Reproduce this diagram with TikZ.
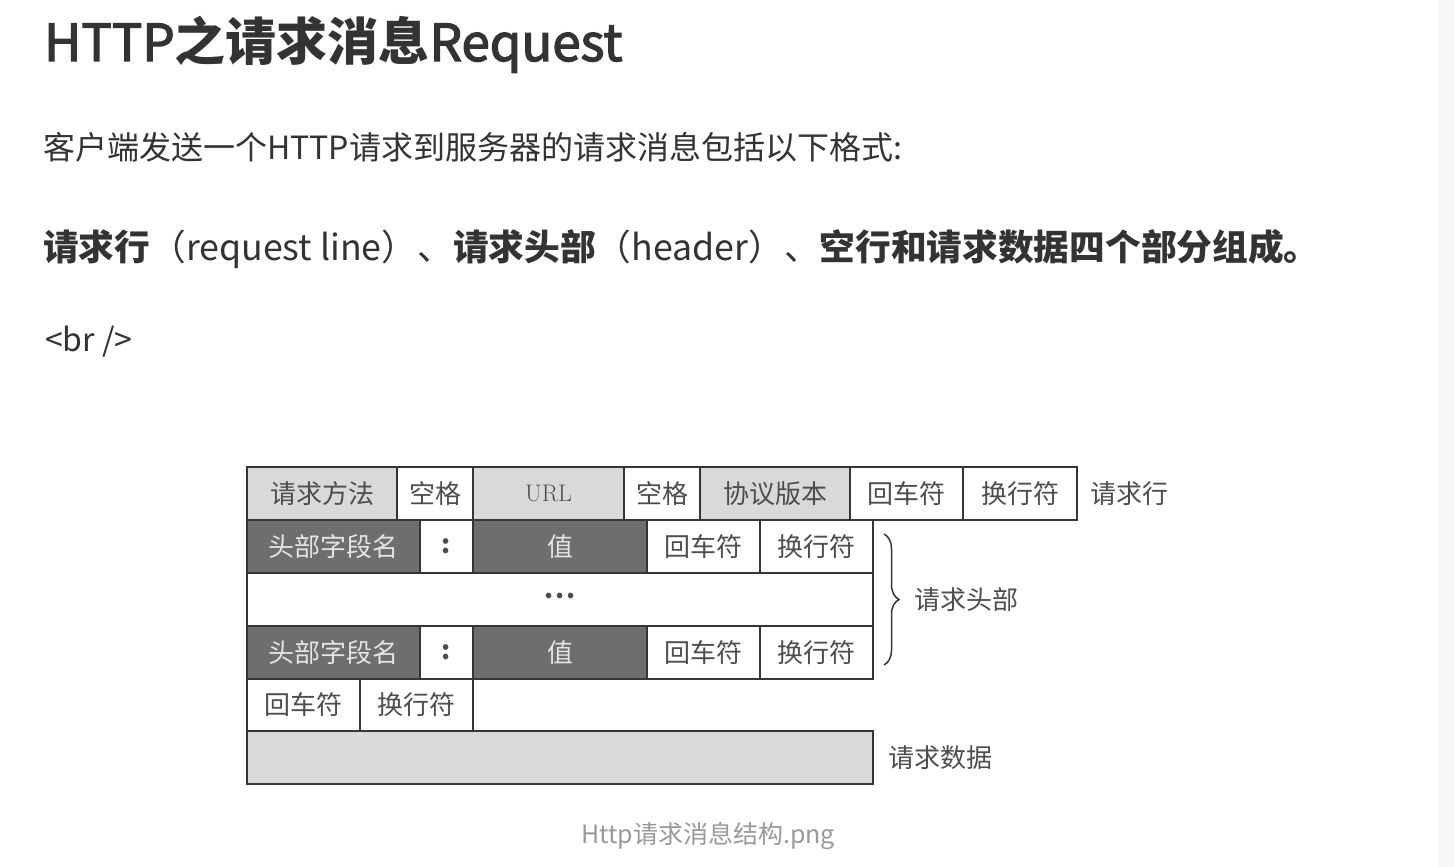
\documentclass[tikz,border=0pt]{standalone}
\usepackage{fontspec}
\usepackage{tikz}
\usetikzlibrary{positioning,decorations.pathreplacing}
\newfontfamily\cjk{Noto Sans CJK SC}
\newfontfamily\cjksemi[FakeBold=2.5]{Noto Sans CJK SC}
\definecolor{inkdark}{HTML}{333333}
\definecolor{cellgray}{HTML}{D9D9D9}
\definecolor{celldark}{HTML}{6E6E6E}
\definecolor{celltext}{HTML}{4D4D4D}
\definecolor{darktext}{HTML}{E4E4E4}
\definecolor{gridline}{HTML}{363636}
\definecolor{capgray}{HTML}{999999}
\definecolor{scrollbg}{HTML}{F7F7F7}

\begin{document}
\begin{tikzpicture}[x=1pt, y=-1pt,
  cell/.style={draw=gridline, line width=1.8pt, inner sep=0pt, outer sep=0pt,
    anchor=north west, minimum height=53pt, text=celltext,
    font=\cjk\fontsize{26}{30}\selectfont},
  lite/.style={fill=cellgray},
  dark/.style={fill=celldark, text=darktext},
  note/.style={inner sep=0pt, outer sep=0pt, text=celltext,
    font=\cjk\fontsize{26}{30}\selectfont},
  para/.style={inner sep=0pt, anchor=base west, text=inkdark}]
\useasboundingbox (0,0) rectangle (1454,867);
\fill[white] (0,0) rectangle (1454,867);
\fill[scrollbg] (1438,0) rectangle (1454,867);

% ---- page text ----
\node[para, font=\cjk\fontsize{51}{60}\selectfont] (title) at (44,61)
  {{\cjksemi HTTP}{\bfseries 之请求消息}{\cjksemi Request}};
\node[para, font=\cjk\fontsize{32}{38}\selectfont] (intro) at (43,159)
  {客户端发送一个HTTP请求到服务器的请求消息包括以下格式:};
\node[para, font=\cjk\fontsize{35.7}{42}\selectfont] (parts) at (43,260)
  {{\bfseries 请求行}（request line）、{\bfseries 请求头部}（header）、{\bfseries 空行和请求数据四个部分组成。}};
\node[para, font=\cjk\fontsize{32}{38}\selectfont] (brtag) at (45,351)
  {<br />};

% ---- request line ----
\node[cell, lite, minimum width=150] (method) at (247,467) {请求方法};
\node[cell, minimum width=76, right=0pt of method] (sp1) {空格};
\node[cell, lite, minimum width=151, right=0pt of sp1] (url)
  {\rmfamily\fontsize{24}{28}\selectfont URL};
\node[cell, minimum width=76, right=0pt of url] (sp2) {空格};
\node[cell, lite, minimum width=150, right=0pt of sp2] (proto) {协议版本};
\node[cell, minimum width=113, right=0pt of proto] (cr1) {回车符};
\node[cell, minimum width=114, right=0pt of cr1] (lf1) {换行符};
\node[note, right=13pt of lf1] (lnlabel) {请求行};

% ---- header lines ----
\node[cell, dark, minimum width=173] (key1) at (247,520) {头部字段名};
\node[cell, minimum width=53, right=0pt of key1] (col1) {\bfseries :};
\node[cell, dark, minimum width=174, right=0pt of col1] (val1) {值};
\node[cell, minimum width=113, right=0pt of val1] (cr2) {回车符};
\node[cell, minimum width=113, right=0pt of cr2] (lf2) {换行符};

\node[cell, minimum width=626] (more) at (247,573)
  {\bfseries\raisebox{0.3em}{.\kern1.5pt.\kern1.5pt.}};

\node[cell, dark, minimum width=173] (key2) at (247,626) {头部字段名};
\node[cell, minimum width=53, right=0pt of key2] (col2) {\bfseries :};
\node[cell, dark, minimum width=174, right=0pt of col2] (val2) {值};
\node[cell, minimum width=113, right=0pt of val2] (cr3) {回车符};
\node[cell, minimum width=113, right=0pt of cr3] (lf3) {换行符};

% ---- blank line and body ----
\node[cell, minimum width=113, minimum height=52] (cr4) at (247,679) {回车符};
\node[cell, minimum width=113, minimum height=52, right=0pt of cr4] (lf4) {换行符};
\node[cell, lite, minimum width=626] (body) at (247,731) {};
\node[note, right=15pt of body] (bodylabel) {请求数据};

% ---- header brace ----
\coordinate (hdtop) at (884,534);
\coordinate (hdbot) at (884,665);
\draw[gridline, line width=1.5pt, decorate, decoration={brace, amplitude=15pt}]
  (hdtop) -- (hdbot);
\node[note, anchor=west] (hdlabel) at (914,600) {请求头部};

% ---- caption ----
\node[inner sep=0pt, text=capgray, font=\cjk\fontsize{25}{30}\selectfont]
  (caption) at (708,836) {Http请求消息结构.png};
\end{tikzpicture}
\end{document}
